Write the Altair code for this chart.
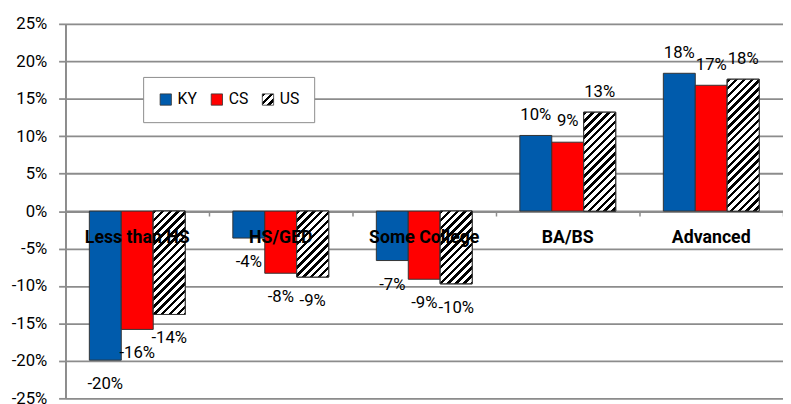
import altair as alt
import pandas as pd

# ---- data (percent change) ----
categories = ["Less than HS", "HS/GED", "Some College", "BA/BS", "Advanced"]
series = ["KY", "CS", "US"]
ky = [-19.9, -3.6, -6.6, 10.1, 18.4]
cs = [-15.8, -8.3, -9.1, 9.2, 16.8]
us = [-13.8, -8.8, -9.7, 13.2, 17.6]
y_ticks = [-25, -20, -15, -10, -5, 0, 5, 10, 15, 20, 25]

# ---- styling / layout constants ----
W, H = 730, 381
Y_MIN, Y_MAX = -25, 25
PAD_OUTER = 0.746
BLUE, RED = "#005BAC", "#FF0000"
GRID = "#8c8c8c"
BAR_STROKE = "#333333"
FONT = "Roboto"

band = W / len(categories)
bar_w = band / (len(series) + 2 * PAD_OUTER)
ppu = H / (Y_MAX - Y_MIN)


def hatch(w, h, gid=None, period=8.0, black=0.45):
    """Diagonal black/white stripes (45 deg) for a box of w x h pixels."""
    total = w + h
    n = total / period
    stops = []
    k = 0
    while k < n:
        a = k / n
        b = min((k + black) / n, 1.0)
        c = min((k + 1) / n, 1.0)
        stops += [
            alt.GradientStop(color="black", offset=a),
            alt.GradientStop(color="black", offset=b),
            alt.GradientStop(color="white", offset=b),
            alt.GradientStop(color="white", offset=c),
        ]
        k += 1
    t = total / (w * w + h * h)
    kw = dict(gradient="linear", stops=stops, x1=0, y1=0, x2=t * w, y2=t * h)
    if gid:
        kw["id"] = gid
    return alt.LinearGradient(**kw)


rows = []
for i, c in enumerate(categories):
    for s, vals in zip(series, [ky, cs, us]):
        v = vals[i]
        rows.append({"category": c, "series": s, "value": v, "label": f"{round(v)}%"})
df = pd.DataFrame(rows)
cat_df = pd.DataFrame({"category": categories, "value": [0] * len(categories)})

x_enc = alt.X(
    "category:N",
    sort=categories,
    scale=alt.Scale(domain=categories, paddingInner=0, paddingOuter=0),
    axis=alt.Axis(
        title=None, labels=False, grid=False, domain=True, domainColor=GRID,
        domainWidth=2, ticks=True, tickBand="extent", tickSize=5, tickColor=GRID,
        tickWidth=1.5, offset=-(H * Y_MAX / (Y_MAX - Y_MIN)),
    ),
)
xo_enc = alt.XOffset(
    "series:N", sort=series,
    scale=alt.Scale(domain=series, paddingInner=0, paddingOuter=PAD_OUTER),
)
y_enc = alt.Y(
    "value:Q", stack=None,
    scale=alt.Scale(domain=[Y_MIN, Y_MAX], nice=False, zero=False),
    axis=alt.Axis(
        title=None, values=y_ticks, labelExpr="datum.value + '%'",
        labelOverlap=False, labelBound=False, labelFlush=False,
        grid=True, gridColor=GRID, gridWidth=1.8,
        domain=True, domainColor=GRID, domainWidth=2,
        ticks=True, tickSize=7, tickColor=GRID, tickWidth=1.8,
        labelFont=FONT, labelFontSize=17, labelColor="black", labelPadding=12,
    ),
)

legend_grad = hatch(11.5, 11.5, gid="hatch_legend", period=8.0)

bars = alt.Chart(df).mark_bar(stroke=BAR_STROKE, strokeWidth=1).encode(
    x=x_enc, xOffset=xo_enc, y=y_enc,
    color=alt.Color(
        "series:N", sort=series,
        scale=alt.Scale(domain=series, range=[BLUE, RED, "url(#hatch_legend)"]),
        legend=alt.Legend(
            title=None, orient="none", legendX=79, legendY=54, direction="horizontal",
            symbolType="square", symbolSize=132, symbolStrokeColor=BAR_STROKE,
            symbolStrokeWidth=0.8, labelFont=FONT, labelFontSize=16, labelColor="black",
            labelOffset=4, columnPadding=12, padding=15, strokeColor=GRID,
            fillColor="white", cornerRadius=0,
        ),
    ),
)

# layer that defines the legend hatch gradient (covered by the overlays)
us_base = alt.Chart(df).transform_filter("datum.series == 'US'").mark_bar(
    fill=legend_grad, stroke=BAR_STROKE, strokeWidth=1
).encode(x=x_enc, xOffset=xo_enc, y=y_enc)

overlays = []
for i, c in enumerate(categories):
    overlays.append(
        alt.Chart(df)
        .transform_filter(f"datum.category == '{c}' && datum.series == 'US'")
        .mark_bar(fill=hatch(bar_w, abs(us[i]) * ppu), stroke=BAR_STROKE, strokeWidth=1)
        .encode(x=x_enc, xOffset=xo_enc, y=y_enc)
    )

pos_labels = alt.Chart(df).transform_filter("datum.value >= 0").mark_text(
    font=FONT, fontSize=17, color="black", baseline="alphabetic", dy=-16
).encode(x=x_enc, xOffset=xo_enc, y=y_enc, text="label:N")

neg_labels = alt.Chart(df).transform_filter("datum.value < 0").mark_text(
    font=FONT, fontSize=17, color="black", baseline="alphabetic", dy=29.5
).encode(x=x_enc, xOffset=xo_enc, y=y_enc, text="label:N")

cat_labels = alt.Chart(cat_df).mark_text(
    font=FONT, fontSize=18, fontWeight="bold", color="black", baseline="alphabetic", dy=32
).encode(x=x_enc, y=y_enc, text="category:N")

chart = (
    alt.layer(bars, us_base, *overlays, pos_labels, neg_labels, cat_labels)
    .properties(
        width=W, height=H,
        padding={"left": 58.5, "top": 12.7, "right": 0, "bottom": 2},
        autosize=alt.AutoSizeParams(type="none"),
    )
    .configure_view(stroke=None)
    .configure(font=FONT)
    .configure_axisY(labelOverlap=False)
)

chart.save("out.html", embed_options={"renderer": "svg", "actions": False})
